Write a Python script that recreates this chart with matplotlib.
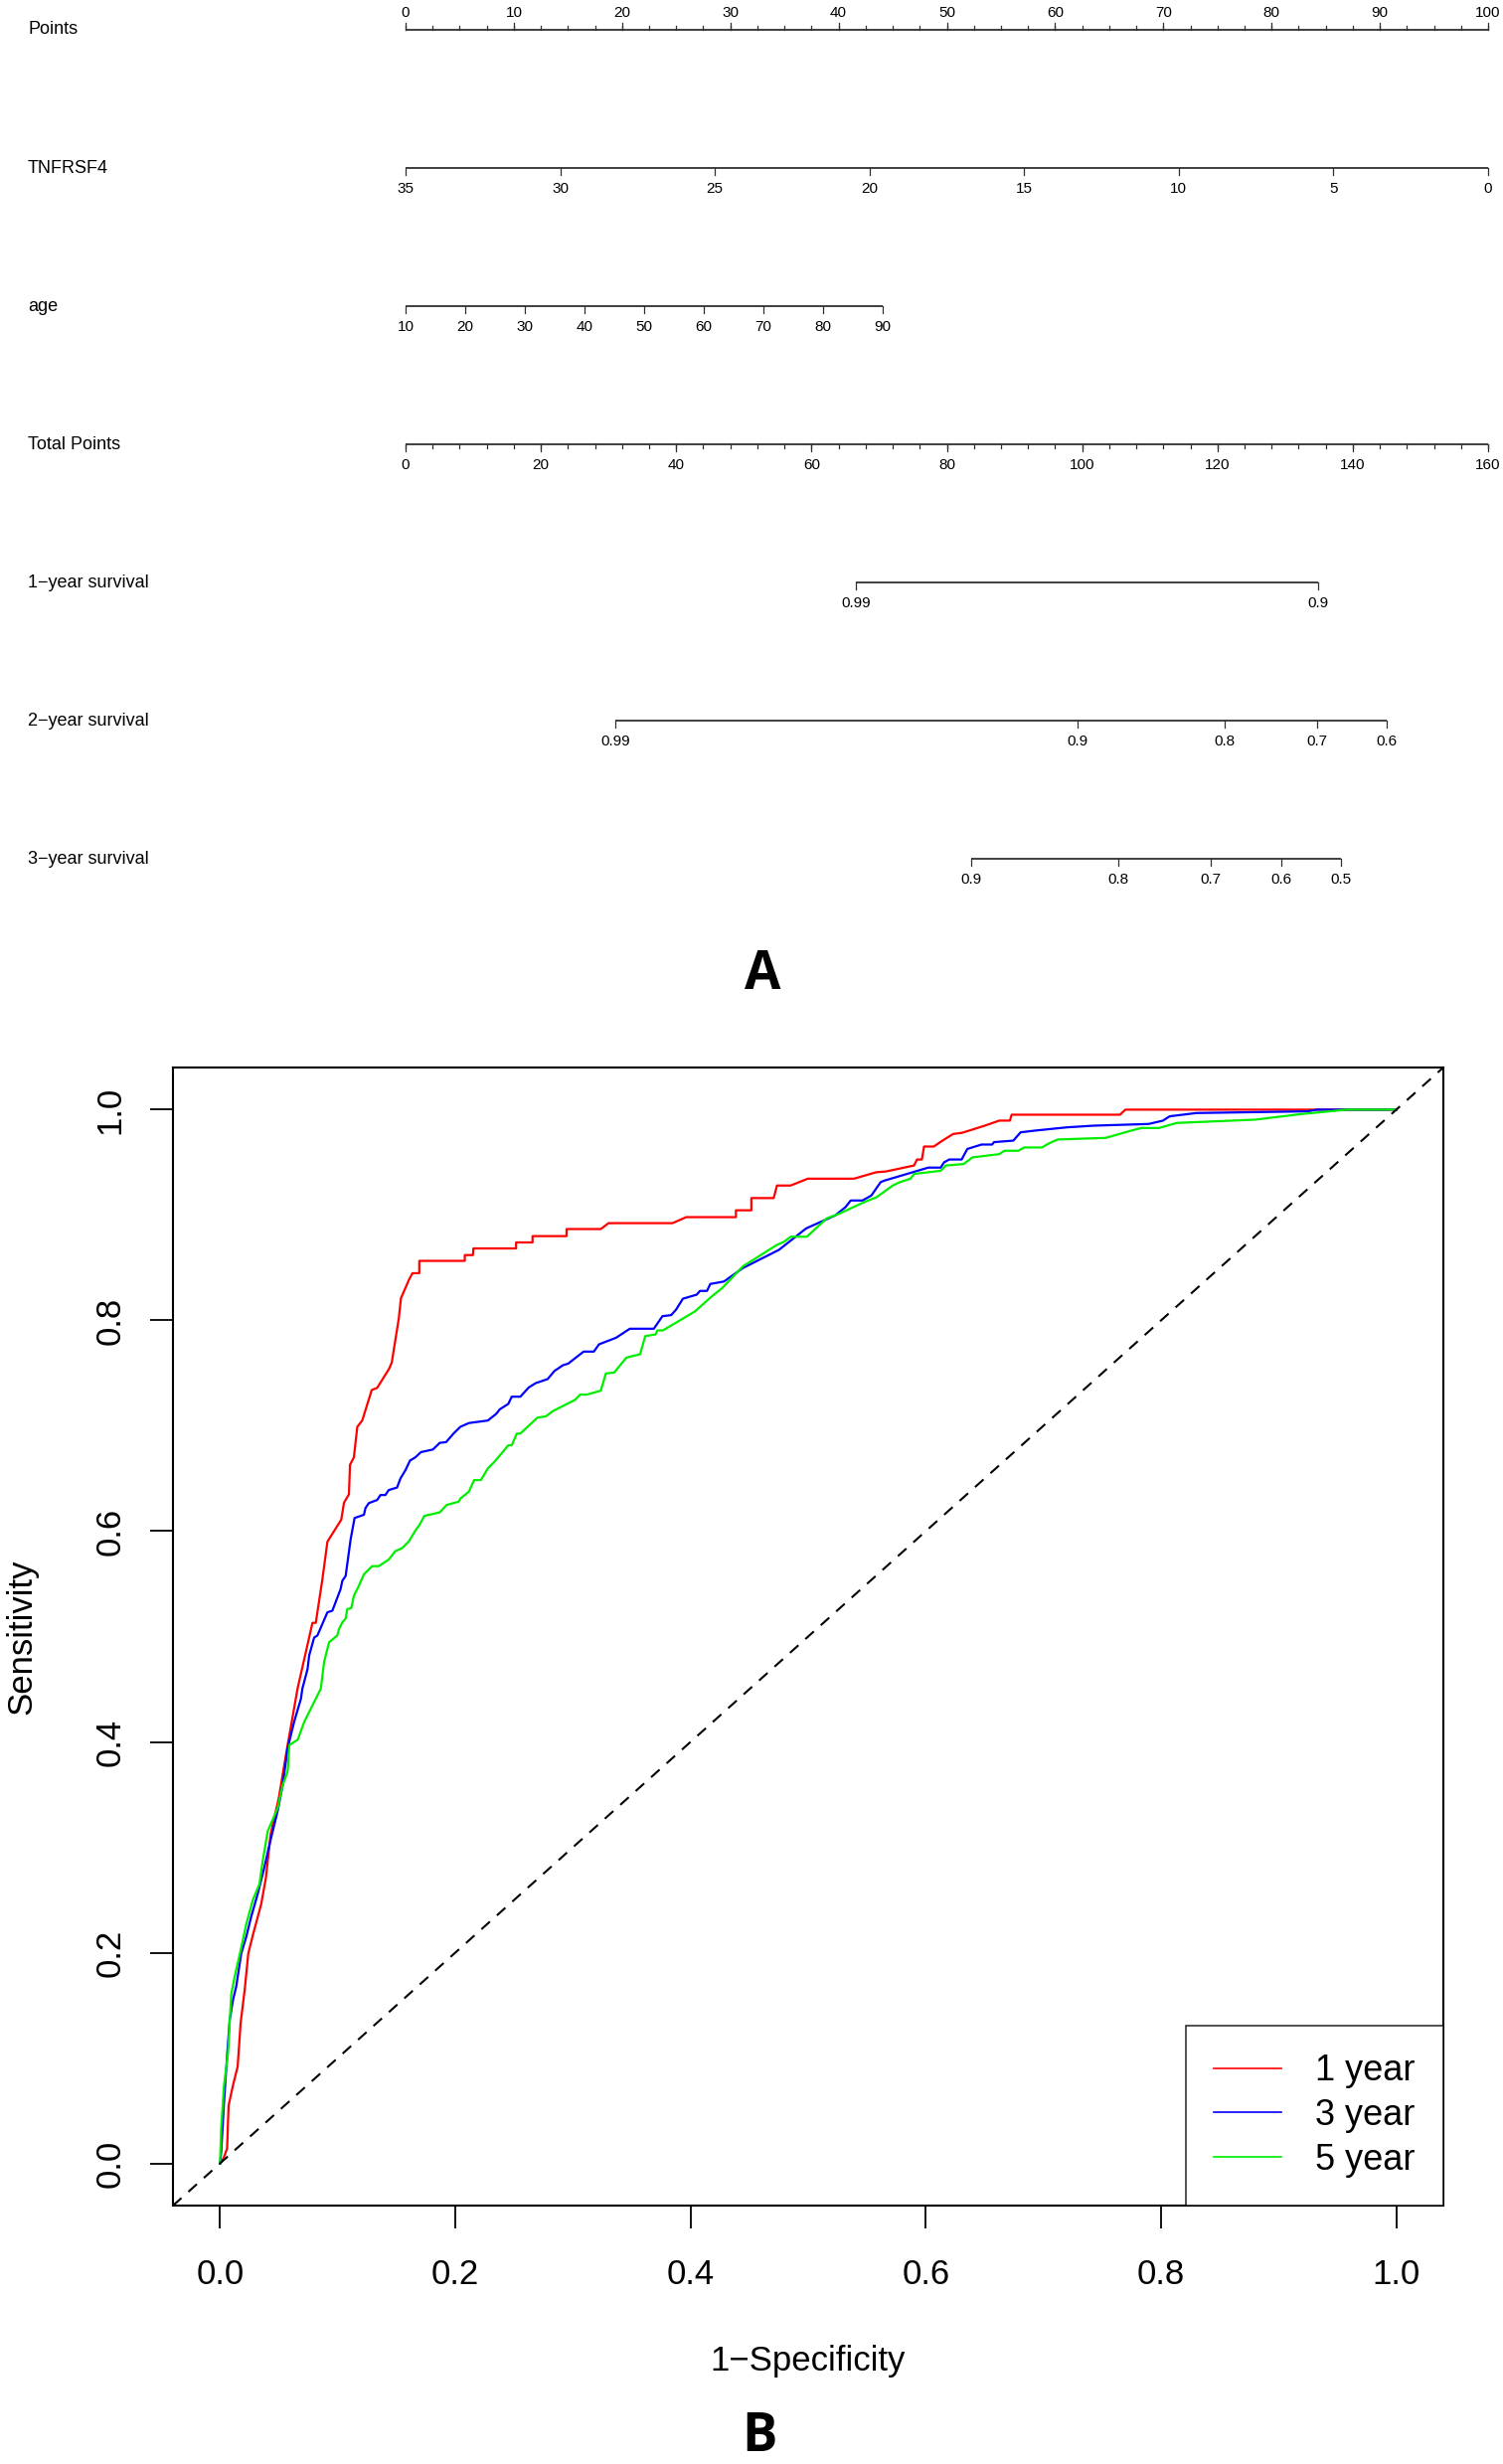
import matplotlib
matplotlib.use("Agg")
import matplotlib.pyplot as plt
import matplotlib.transforms as mtransforms

plt.rcParams['font.family'] = ['Liberation Sans', 'DejaVu Sans']

# ---- nomogram (panel A) ----
points_ticks = [0, 10, 20, 30, 40, 50, 60, 70, 80, 90, 100]
tnfrsf4_vals = [35, 30, 25, 20, 15, 10, 5, 0]
age_vals = [10, 20, 30, 40, 50, 60, 70, 80, 90]
age_max_points = 44.1          # points given to age = 90
total_ticks = [0, 20, 40, 60, 80, 100, 120, 140, 160]
surv1_probs = ['0.99', '0.9']
surv1_total = [66.6, 134.9]
surv2_probs = ['0.99', '0.9', '0.8', '0.7', '0.6']
surv2_total = [31.0, 99.3, 121.1, 134.7, 145.0]
surv3_probs = ['0.9', '0.8', '0.7', '0.6', '0.5']
surv3_total = [83.6, 105.3, 119.0, 129.4, 138.3]
row_labels = ['Points', 'TNFRSF4', 'age', 'Total Points',
              '1\u2212year survival', '2\u2212year survival', '3\u2212year survival']

# ---- ROC curves (panel B) ----
fpr_1y = [0.0, 0.003, 0.006, 0.0073, 0.011, 0.015, 0.0175, 0.021, 0.024, 0.028, 0.035, 0.039,
          0.043, 0.050, 0.057, 0.066, 0.0786, 0.0814, 0.087, 0.0913, 0.1031, 0.1054, 0.1096,
          0.1105, 0.1138, 0.1167, 0.1209, 0.129, 0.1336, 0.1437, 0.146, 0.152, 0.1538, 0.1606,
          0.1636, 0.1694, 0.1694, 0.2081, 0.2081, 0.215, 0.2154, 0.2517, 0.2517, 0.2657, 0.2657,
          0.2946, 0.2946, 0.3237, 0.3303, 0.3847, 0.3964, 0.4386, 0.4386, 0.4517, 0.4517, 0.4707,
          0.4735, 0.4851, 0.4997, 0.539, 0.5578, 0.5659, 0.59, 0.5925, 0.5967, 0.5985, 0.6068,
          0.6142, 0.6232, 0.6308, 0.6504, 0.6625, 0.6715, 0.673, 0.7651, 0.7697, 1.0]
tpr_1y = [0.0, 0.005, 0.014, 0.055, 0.074, 0.092, 0.133, 0.165, 0.199, 0.217, 0.246, 0.271,
          0.312, 0.347, 0.394, 0.451, 0.513, 0.513, 0.554, 0.590, 0.611, 0.627, 0.635,
          0.663, 0.670, 0.699, 0.705, 0.734, 0.736, 0.754, 0.760, 0.802, 0.821, 0.8385,
          0.8448, 0.8448, 0.8565, 0.8565, 0.862, 0.862, 0.8683, 0.8683, 0.874, 0.874, 0.880,
          0.880, 0.8867, 0.8867, 0.8923, 0.8923, 0.898, 0.898, 0.9045, 0.9045, 0.9161, 0.9161,
          0.928, 0.928, 0.9345, 0.9345, 0.9406, 0.9413, 0.947, 0.9527, 0.9527, 0.965, 0.965,
          0.9706, 0.9769, 0.978, 0.9849, 0.9896, 0.9896, 0.9952, 0.9952, 1.0, 1.0]

fpr_3y = [0.0, 0.001, 0.0034, 0.0062, 0.0082, 0.011, 0.0138, 0.018, 0.0223, 0.0265, 0.0321,
          0.0377, 0.0428, 0.049, 0.0533, 0.0575, 0.063, 0.0688, 0.070, 0.0744, 0.0758, 0.080,
          0.0828, 0.0913, 0.0955, 0.1025, 0.104, 0.1068, 0.111, 0.1144, 0.1223, 0.1237, 0.1265,
          0.1336, 0.1364, 0.1406, 0.1434, 0.1505, 0.1534, 0.1577, 0.1615, 0.166, 0.1708, 0.181,
          0.1868, 0.1922, 0.1985, 0.2043, 0.2116, 0.2277, 0.2349, 0.2378, 0.2451, 0.248, 0.2553,
          0.2626, 0.2684, 0.2785, 0.2844, 0.2916, 0.296, 0.3091, 0.3178, 0.3222, 0.3368, 0.3484,
          0.3688, 0.3761, 0.3835, 0.3877, 0.3935, 0.4052, 0.408, 0.414, 0.4168, 0.4284, 0.4445,
          0.4751, 0.4983, 0.5231, 0.5318, 0.5362, 0.5462, 0.5537, 0.5616, 0.5646, 0.584, 0.6021,
          0.6127, 0.6155, 0.62, 0.6305, 0.6353, 0.6474, 0.6564, 0.658, 0.6744, 0.6806, 0.6926,
          0.7197, 0.7425, 0.7893, 0.8014, 0.8074, 0.83, 0.925, 0.9327, 1.0]
tpr_3y = [0.0, 0.011, 0.058, 0.105, 0.136, 0.155, 0.168, 0.199, 0.215, 0.234, 0.256,
          0.281, 0.306, 0.3345, 0.359, 0.394, 0.419, 0.441, 0.4505, 0.469, 0.482, 0.499,
          0.501, 0.523, 0.5245, 0.545, 0.553, 0.5575, 0.592, 0.6125, 0.6155, 0.622, 0.6266,
          0.6296, 0.6343, 0.6343, 0.639, 0.6414, 0.65, 0.658, 0.667, 0.670, 0.675, 0.6775,
          0.6838, 0.6845, 0.6926, 0.699, 0.7026, 0.705, 0.7114, 0.7156, 0.7208, 0.7276, 0.7276,
          0.7365, 0.7405, 0.7443, 0.7521, 0.7575, 0.759, 0.7704, 0.7704, 0.7773, 0.7836, 0.7921,
          0.7921, 0.804, 0.805, 0.8102, 0.8206, 0.8244, 0.828, 0.828, 0.8346, 0.8369, 0.8497,
          0.8669, 0.8873, 0.8997, 0.9076, 0.9138, 0.9138, 0.9185, 0.9312, 0.9326, 0.939, 0.945,
          0.945, 0.95, 0.9527, 0.9527, 0.9627, 0.9669, 0.9669, 0.9692, 0.9706, 0.9785, 0.9801,
          0.9832, 0.9848, 0.9864, 0.9895, 0.9937, 0.9968, 0.9984, 1.0, 1.0]

fpr_5y = [0.0, 0.001, 0.0034, 0.0068, 0.0096, 0.0124, 0.0175, 0.0223, 0.0279, 0.0335, 0.0363,
          0.0406, 0.049, 0.0533, 0.0575, 0.0589, 0.066, 0.0716, 0.0814, 0.0857, 0.0885, 0.0927,
          0.0997, 0.1011, 0.104, 0.1068, 0.1082, 0.1116, 0.1138, 0.118, 0.1223, 0.1293, 0.135,
          0.1434, 0.149, 0.155, 0.1606, 0.1665, 0.1695, 0.1737, 0.1868, 0.1927, 0.2029, 0.2044,
          0.2116, 0.216, 0.2218, 0.2277, 0.2334, 0.2451, 0.248, 0.2523, 0.2553, 0.2698, 0.2771,
          0.2829, 0.3018, 0.3062, 0.3119, 0.3237, 0.328, 0.3352, 0.3397, 0.3455, 0.3571, 0.3615,
          0.3703, 0.3718, 0.3765, 0.392, 0.4037, 0.4183, 0.427, 0.4445, 0.4735, 0.4793, 0.4852,
          0.4989, 0.5041, 0.5158, 0.5265, 0.5478, 0.5583, 0.5719, 0.578, 0.587, 0.59, 0.6127,
          0.6171, 0.6322, 0.6397, 0.6625, 0.6669, 0.6787, 0.6836, 0.6987, 0.7047, 0.7122, 0.7529,
          0.7727, 0.7832, 0.7983, 0.8134, 0.8799, 0.9191, 0.9583, 1.0]
tpr_5y = [0.0, 0.033, 0.074, 0.105, 0.161, 0.177, 0.202, 0.227, 0.250, 0.265, 0.287,
          0.3155, 0.337, 0.359, 0.372, 0.397, 0.402, 0.419, 0.441, 0.4505, 0.476, 0.4945,
          0.501, 0.507, 0.5135, 0.517, 0.526, 0.527, 0.5386, 0.548, 0.559, 0.5668, 0.5668,
          0.573, 0.581, 0.584, 0.5904, 0.6013, 0.6058, 0.6145, 0.6178, 0.6249, 0.628, 0.631,
          0.6375, 0.6485, 0.6485, 0.6596, 0.6659, 0.6815, 0.6815, 0.6926, 0.6926, 0.7077, 0.709,
          0.7139, 0.7246, 0.7296, 0.7296, 0.7333, 0.7496, 0.7506, 0.7568, 0.7647, 0.7679, 0.7851,
          0.7867, 0.7905, 0.7905, 0.8007, 0.8085, 0.823, 0.8308, 0.8513, 0.8717, 0.8745, 0.8794,
          0.8794, 0.8848, 0.8968, 0.9013, 0.9123, 0.917, 0.928, 0.9312, 0.9345, 0.939, 0.942,
          0.947, 0.9484, 0.9547, 0.9578, 0.961, 0.961, 0.9641, 0.9641, 0.968, 0.9717, 0.9732,
          0.9795, 0.9826, 0.9826, 0.9874, 0.9905, 0.9958, 1.0, 1.0]

roc_labels = ['1 year', '3 year', '5 year']
roc_colors = ['#ff0000', '#0000ff', '#00ee00']

W, H = 1512, 2479
fig = plt.figure(figsize=(W / 100, H / 100), dpi=100)

# ---------------- Panel A: nomogram ----------------
nom_h = 1000
px_per_point = 10.89
x0 = 408
row0, row_gap = 30, 139.05
ax_n = fig.add_axes([0, 1 - nom_h / H, 1, nom_h / H])
ax_n.set_xlim(-x0 / px_per_point, (W - x0) / px_per_point)
ax_n.set_ylim(nom_h, 0)
ax_n.axis('off')
line_kw = dict(color='#303030', lw=1.3, solid_capstyle='butt')
tick_kw = dict(color='#303030', lw=0.9)


def draw_scale(y, pos, labels, above=False, minor=None):
    ax_n.plot([min(pos), max(pos)], [y, y], **line_kw)
    s = -1 if above else 1
    for p, lab in zip(pos, labels):
        ax_n.plot([p, p], [y, y + s * 7], **tick_kw)
        ax_n.text(p, y - 13 if above else y + 25, lab, ha='center', va='baseline', fontsize=11)
    if minor is not None:
        for p in minor:
            ax_n.plot([p, p], [y, y + s * 3.5], **tick_kw)


rows = [row0 + i * row_gap for i in range(len(row_labels))]
lab_tr = mtransforms.blended_transform_factory(ax_n.transAxes, ax_n.transData)
for y, lab in zip(rows, row_labels):
    ax_n.text(28 / W, y, lab, transform=lab_tr, ha='left', va='center', fontsize=13)

minor_pts = [i * 2.5 for i in range(41)]
draw_scale(rows[0], points_ticks, [str(v) for v in points_ticks], above=True, minor=minor_pts)
draw_scale(rows[1], [(35 - v) / 35 * 100 for v in tnfrsf4_vals], [str(v) for v in tnfrsf4_vals])
draw_scale(rows[2], [(a - 10) / 80 * age_max_points for a in age_vals], [str(v) for v in age_vals])
draw_scale(rows[3], [t * 100 / 160 for t in total_ticks], [str(v) for v in total_ticks],
           minor=minor_pts)
draw_scale(rows[4], [t * 100 / 160 for t in surv1_total], surv1_probs)
draw_scale(rows[5], [t * 100 / 160 for t in surv2_total], surv2_probs)
draw_scale(rows[6], [t * 100 / 160 for t in surv3_total], surv3_probs)

fig.text(767 / W, 1 - 981 / H, 'A', ha='center', va='center', fontsize=38,
         fontweight='bold', family=['Open Sans', 'DejaVu Sans'])

# ---------------- Panel B: ROC ----------------
left, right, top, bottom = 174, 1452, 1074, 2219
ax = fig.add_axes([left / W, 1 - bottom / H, (right - left) / W, (bottom - top) / H])
for fpr, tpr, lab, col in zip([fpr_1y, fpr_3y, fpr_5y], [tpr_1y, tpr_3y, tpr_5y], roc_labels, roc_colors):
    ax.plot(fpr, tpr, color=col, lw=1.6, label=lab)
ax.axline((0, 0), slope=1, color='black', lw=1.5, dashes=(5.5, 4.5))
ax.set_xlim(-0.04, 1.04)
ax.set_ylim(-0.04, 1.04)
ticks = [0.0, 0.2, 0.4, 0.6, 0.8, 1.0]
ax.set_xticks(ticks)
ax.set_yticks(ticks)
ax.set_xticklabels(['%.1f' % t for t in ticks])
ax.set_yticklabels(['%.1f' % t for t in ticks], rotation=90, va='center')
ax.tick_params(axis='both', direction='out', length=16.5, width=1.3, labelsize=25)
ax.tick_params(axis='x', pad=22)
ax.tick_params(axis='y', pad=17)
for sp in ax.spines.values():
    sp.set_linewidth(1.5)
ax.set_xlabel('1\u2212Specificity', fontsize=25)
ax.set_ylabel('Sensitivity', fontsize=25)
ax.xaxis.set_label_coords(0.5, (bottom - 2376) / (bottom - top))
ax.yaxis.set_label_coords((22 - left) / (right - left), 0.5)
ax.xaxis.label.set_va('center')
ax.yaxis.label.set_va('center')

leg = ax.legend(loc='lower right', borderaxespad=0, fontsize=26, frameon=True, fancybox=False,
                edgecolor='black', handlelength=1.9, handletextpad=0.94, labelspacing=0.27,
                borderpad=0.78)
leg.get_frame().set_linewidth(1.2)
for h in leg.get_lines():
    h.set_linewidth(1.2)

fig.text(764 / W, 1 - 2452 / H, 'B', ha='center', va='center', fontsize=38,
         fontweight='bold', family=['Open Sans', 'DejaVu Sans'])

fig.savefig('out.png', dpi=100)
